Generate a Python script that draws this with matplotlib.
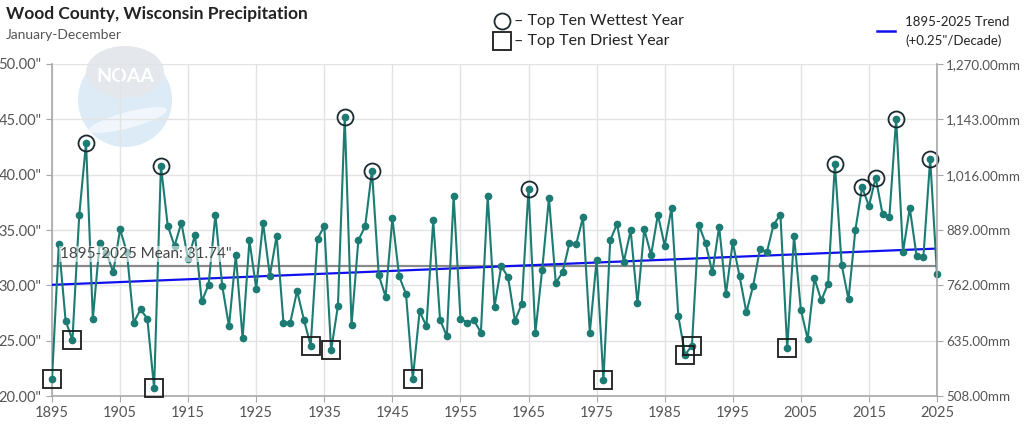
import matplotlib
matplotlib.use("Agg")
import matplotlib.pyplot as plt
import numpy as np
from matplotlib.patches import Circle, Ellipse

plt.rcParams['font.family'] = ['Lato', 'DejaVu Sans']

years = list(range(1895, 2026))
precip = [
    21.50, 33.73, 26.80, 25.06, 36.33, 42.89, 26.99, 33.83, 32.95, 31.17,  # 1895-1904
    35.06, 32.98, 26.63, 27.83, 26.99, 20.72, 40.81, 35.39, 33.55, 35.66,  # 1905-1914
    32.35, 34.55, 28.55, 30.06, 36.39, 29.97, 26.30, 32.74, 25.20, 34.07,  # 1915-1924
    29.70, 35.66, 30.87, 34.49, 26.63, 26.63, 29.49, 26.90, 24.55, 34.22,  # 1925-1934
    35.33, 24.13, 28.13, 45.24, 26.39, 34.07, 35.33, 40.36, 30.90, 28.98,  # 1935-1944
    36.05, 30.81, 29.22, 21.57, 27.65, 26.30, 35.87, 26.90, 25.39, 38.07,  # 1945-1954
    26.99, 26.63, 26.84, 25.72, 38.07, 28.07, 31.75, 30.72, 26.81, 28.31,  # 1955-1964
    38.73, 25.72, 31.39, 37.89, 30.24, 31.17, 33.80, 33.73, 36.14, 25.72,  # 1965-1974
    32.29, 21.45, 34.07, 35.54, 32.14, 34.97, 28.37, 35.06, 32.74, 36.39,  # 1975-1984
    33.58, 36.99, 27.23, 23.73, 24.56, 35.48, 33.83, 31.17, 35.30, 29.22,  # 1985-1994
    33.89, 30.81, 27.56, 29.97, 33.31, 32.98, 35.48, 36.39, 24.31, 34.49,  # 1995-2004
    27.80, 25.15, 30.63, 28.64, 30.15, 40.96, 31.84, 28.73, 34.97, 38.86,  # 2005-2014
    37.17, 39.73, 36.42, 36.14, 45.06, 32.98, 36.99, 32.65, 32.56, 41.42,  # 2015-2024
    30.99,                                                                 # 2025
]
wettest_years = [1900, 1911, 1938, 1942, 1965, 2010, 2014, 2016, 2019, 2024]
driest_years = [1895, 1898, 1910, 1933, 1936, 1948, 1976, 1988, 1989, 2003]
mean_value = 31.74
x_ticks = list(range(1895, 2026, 10))
y_ticks = [20, 25, 30, 35, 40, 45, 50]

yrs = np.array(years)
vals = np.array(precip)

W, H = 1024, 432
fig = plt.figure(figsize=(W / 100, H / 100), dpi=100)
ax = fig.add_axes([52 / W, 1 - 396 / H, (937 - 52) / W, (396 - 64) / H])

teal = '#1c7b72'
grid_c = '#e3e3e3'
spine_c = '#a8a8a8'
tick_c = '#555555'

# NOAA watermark
logo = fig.add_axes([0, 0, 1, 1], zorder=-1)
logo.set_xlim(0, W); logo.set_ylim(H, 0); logo.axis('off')
logo.add_patch(Circle((125, 100), 47, color='#dcebf6', lw=0))
logo.add_patch(Ellipse((125, 72), 78, 52, color='#e4e7ec', lw=0))
logo.add_patch(Ellipse((128, 120), 80, 16, color='#ffffff', lw=0, alpha=0.6, angle=-15))
logo.text(125, 76, 'NOAA', color='white', fontsize=14, fontweight='bold',
          ha='center', va='center')
ax.patch.set_alpha(0)

ax.set_xlim(1895, 2025)
ax.set_ylim(20, 50)
ax.set_xticks(x_ticks)
ax.set_yticks(y_ticks)
ax.set_yticklabels([f'{v:.2f}"' for v in y_ticks])
ax.grid(True, color=grid_c, lw=1)
ax.set_axisbelow(True)
for s in ['top', 'right']:
    ax.spines[s].set_visible(False)
for s in ['left', 'bottom']:
    ax.spines[s].set_color(spine_c)
    ax.spines[s].set_linewidth(1.2)
ax.tick_params(axis='both', colors=spine_c, labelcolor=tick_c, labelsize=10.5, length=4)
ax.tick_params(axis='x', pad=3)

# mean line
ax.axhline(mean_value, color='#8a8a8a', lw=1.6, zorder=2)
# trend line
coef = np.polyfit(yrs, vals, 1)
ax.plot(yrs, np.polyval(coef, yrs), color='#1010ee', lw=1.6, zorder=3)

ax.plot(yrs, vals, color=teal, lw=1.5, zorder=4)
ax.plot(yrs, vals, 'o', color=teal, ms=4.5, zorder=5, clip_on=False)

wet_idx = [years.index(y) for y in wettest_years]
dry_idx = [years.index(y) for y in driest_years]
ax.plot(yrs[wet_idx], vals[wet_idx], 'o', ms=11.5, mfc='none', mec='#1b2a30', mew=1.3,
        zorder=6, clip_on=False)
ax.plot(yrs[dry_idx], vals[dry_idx], 's', ms=12.5, mfc='none', mec='#1b1b1b', mew=1.3,
        zorder=6, clip_on=False)

ax.text(1896.2, mean_value + 0.45, f'1895-2025 Mean: {mean_value:.2f}"', fontsize=11,
        color='#444444', va='bottom', ha='left', zorder=7,
        bbox=dict(facecolor='white', alpha=0.55, edgecolor='none', pad=0.5))

# right axis in mm
ax2 = ax.twinx()
ax2.set_ylim(20 * 25.4, 50 * 25.4)
mm_ticks = [v * 25.4 for v in y_ticks]
ax2.set_yticks(mm_ticks)
ax2.set_yticklabels([f'{v:,.2f}mm' for v in mm_ticks])
for s in ['top', 'left', 'bottom']:
    ax2.spines[s].set_visible(False)
ax2.spines['right'].set_color(spine_c)
ax2.spines['right'].set_linewidth(1.2)
ax2.tick_params(axis='y', colors=spine_c, labelcolor=tick_c, labelsize=9.6, length=4,
                pad=2.5)

# titles
fig.text(6 / W, 1 - 14 / H, 'Wood County, Wisconsin Precipitation', fontsize=12.5,
         fontweight='bold', color='#222222', va='center', ha='left')
fig.text(6 / W, 1 - 35 / H, 'January-December', fontsize=10, color='#555555',
         va='center', ha='left')

# legend
lg = fig.add_axes([0, 0, 1, 1], zorder=10)
lg.set_xlim(0, W); lg.set_ylim(H, 0); lg.axis('off')
lg.plot([502], [21], 'o', ms=11.5, mfc='none', mec='#1b2a30', mew=1.3)
lg.plot([502], [41], 's', ms=12.5, mfc='none', mec='#1b1b1b', mew=1.3)
lg.text(514, 21, '– Top Ten Wettest Year', fontsize=11.5, color='#222222', va='center')
lg.text(514, 41, '– Top Ten Driest Year', fontsize=11.5, color='#222222', va='center')
lg.plot([877, 895], [31, 31], color='#1010ee', lw=1.8)
lg.text(905, 22, '1895-2025 Trend', fontsize=9.5, color='#222222', va='center')
lg.text(905, 41, '(+0.25"/Decade)', fontsize=9.5, color='#222222', va='center')

fig.savefig('out.png', dpi=100)
